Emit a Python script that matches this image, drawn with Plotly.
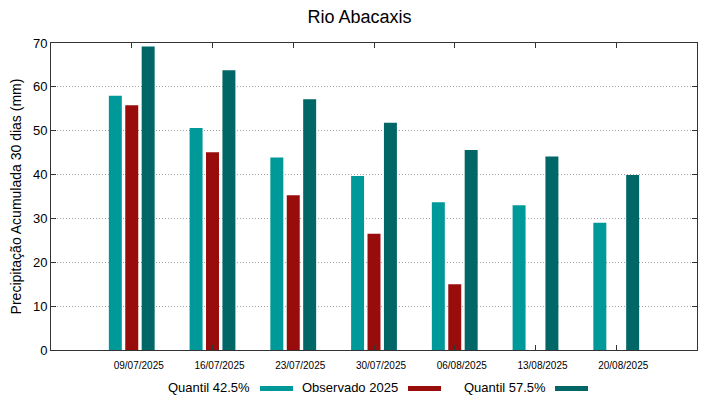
import plotly.graph_objects as go

categories = ["09/07/2025", "16/07/2025", "23/07/2025", "30/07/2025",
              "06/08/2025", "13/08/2025", "20/08/2025"]
q425 = [58.0, 50.6, 43.9, 39.7, 33.7, 33.0, 29.0]
obs2025 = [55.8, 45.1, 35.3, 26.5, 15.0, None, None]
q575 = [69.2, 63.8, 57.2, 51.8, 45.6, 44.1, 39.9]

series_names = ["Quantil 42.5%", "Observado 2025", "Quantil 57.5%"]
colors = ["#009999", "#990c0c", "#006666"]

x_idx = list(range(len(categories)))
fig = go.Figure()
for name, vals, col in zip(series_names, [q425, obs2025, q575], colors):
    fig.add_trace(go.Bar(x=x_idx, y=vals, name=name, marker_color=col,
                         marker_line_width=0, showlegend=False))

font = "Liberation Sans, Arial, sans-serif"
fig.update_layout(
    width=719, height=399,
    margin=dict(l=51, r=22, t=43, b=49, autoexpand=False),
    paper_bgcolor="white", plot_bgcolor="white",
    barmode="group", bargap=0.39, bargroupgap=0.21,
    title=dict(text="Rio Abacaxis", x=0.5, xanchor="center", y=0.958, yanchor="middle",
               font=dict(family=font, size=18, color="black")),
    font=dict(family=font, color="black"),
)
fig.update_xaxes(
    range=[-1, 7], tickmode="array", tickvals=x_idx, ticktext=categories,
    tickfont=dict(size=10, color="black"), ticks="inside", ticklen=5,
    tickcolor="#333", showline=True, linecolor="#333", linewidth=1,
    mirror="allticks", showgrid=False, zeroline=False, ticklabelshift=7,
    ticklabelstandoff=6, automargin=False,
)
fig.update_yaxes(
    range=[0, 70], dtick=10, tickfont=dict(size=13, color="black"),
    ticks="inside", ticklen=5, tickcolor="#333", showline=True,
    linecolor="#333", linewidth=1, mirror="allticks",
    showgrid=True, gridcolor="#a0a0a0", griddash="1px,2px", gridwidth=1,
    zeroline=False, automargin=False,
    title=dict(text="Precipitação Acumulada 30 dias (mm)",
               font=dict(size=14, color="black"), standoff=8),
)

# Manual gnuplot-style legend (text then sample)
legend_items = [(252, 260, 293), (400, 408, 441), (548, 555, 588)]
for (txt_right, s0, s1), name, col in zip(legend_items, series_names, colors):
    fig.add_annotation(text=name, xref="paper", yref="paper",
                       x=(txt_right - 51) / 646, y=(350 - 387) / 307,
                       xanchor="right", yanchor="middle", showarrow=False,
                       font=dict(size=13, color="black", family=font))
    fig.add_shape(type="rect", xref="paper", yref="paper",
                  x0=(s0 - 51) / 646, x1=(s1 - 51) / 646,
                  y0=(350 - 391) / 307, y1=(350 - 386) / 307,
                  fillcolor=col, line_width=0)

fig.write_html("out.html", config={"displayModeBar": False},
               post_script="document.body.style.margin='0';")
